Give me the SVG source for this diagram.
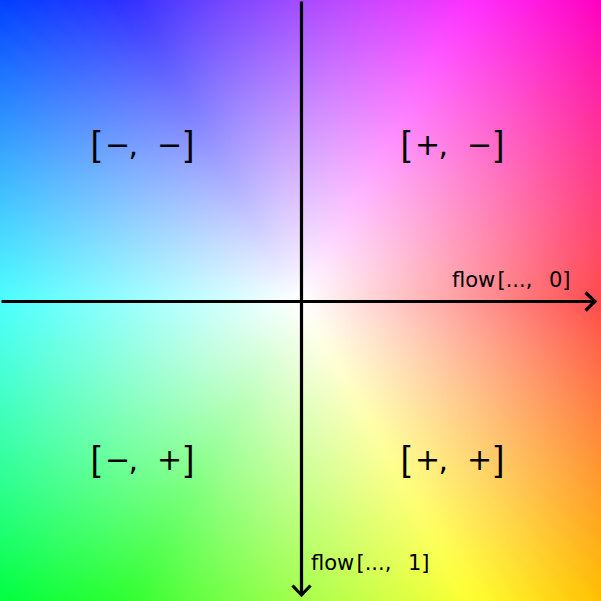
<svg xmlns="http://www.w3.org/2000/svg" xmlns:xlink="http://www.w3.org/1999/xlink" width="601" height="601" viewBox="0 0 601 601">
<style>
text{font-family:"DejaVu Sans","Liberation Sans",sans-serif;fill:#000}
.big{font-size:30px}
.br{font-family:"Liberation Sans",sans-serif;font-size:35px}
.ax{font-size:21px}
.axis{stroke:#000;stroke-width:3.2;fill:none}
</style>
<defs>
<path id="w" d="M0 0L700 0L700 49Z"/>
<filter id="bl" filterUnits="userSpaceOnUse" x="-100" y="-100" width="801" height="801" color-interpolation-filters="sRGB"><feGaussianBlur stdDeviation="5"/></filter>
<radialGradient id="wh" gradientUnits="userSpaceOnUse" cx="300.5" cy="300.5" r="424.97">
<stop offset="0" stop-color="#fff" stop-opacity="1"/>
<stop offset="1" stop-color="#fff" stop-opacity="0"/>
</radialGradient>
<marker id="ah" markerUnits="userSpaceOnUse" viewBox="-14 -12 18 24" refX="0" refY="0" markerWidth="18" markerHeight="24" orient="auto" overflow="visible">
<path d="M-9.5 -9L0 0L-9.5 9" fill="none" stroke="#000" stroke-width="3.2"/>
</marker>
</defs>
<g id="wheel">
<g filter="url(#bl)">
<g transform="translate(300.5 300.5)">
<use href="#w" transform="rotate(0)" fill="#ff0600"/><use href="#w" transform="rotate(3)" fill="#ff1300"/><use href="#w" transform="rotate(6)" fill="#ff2000"/><use href="#w" transform="rotate(9)" fill="#ff2d00"/><use href="#w" transform="rotate(12)" fill="#ff3900"/><use href="#w" transform="rotate(15)" fill="#ff4600"/><use href="#w" transform="rotate(18)" fill="#ff5300"/><use href="#w" transform="rotate(21)" fill="#ff6000"/><use href="#w" transform="rotate(24)" fill="#ff6c00"/><use href="#w" transform="rotate(27)" fill="#ff7900"/><use href="#w" transform="rotate(30)" fill="#ff8600"/><use href="#w" transform="rotate(33)" fill="#ff9300"/><use href="#w" transform="rotate(36)" fill="#ff9f00"/><use href="#w" transform="rotate(39)" fill="#ffac00"/><use href="#w" transform="rotate(42)" fill="#ffb900"/><use href="#w" transform="rotate(45)" fill="#ffc600"/><use href="#w" transform="rotate(48)" fill="#ffd200"/><use href="#w" transform="rotate(51)" fill="#ffdf00"/><use href="#w" transform="rotate(54)" fill="#ffec00"/><use href="#w" transform="rotate(57)" fill="#fff900"/>
<use href="#w" transform="rotate(60)" fill="#f9ff00"/><use href="#w" transform="rotate(63)" fill="#ecff00"/><use href="#w" transform="rotate(66)" fill="#dfff00"/><use href="#w" transform="rotate(69)" fill="#d2ff00"/><use href="#w" transform="rotate(72)" fill="#c6ff00"/><use href="#w" transform="rotate(75)" fill="#b9ff00"/><use href="#w" transform="rotate(78)" fill="#acff00"/><use href="#w" transform="rotate(81)" fill="#9fff00"/><use href="#w" transform="rotate(84)" fill="#93ff00"/><use href="#w" transform="rotate(87)" fill="#86ff00"/><use href="#w" transform="rotate(90)" fill="#79ff00"/><use href="#w" transform="rotate(93)" fill="#6cff00"/><use href="#w" transform="rotate(96)" fill="#60ff00"/><use href="#w" transform="rotate(99)" fill="#53ff00"/><use href="#w" transform="rotate(102)" fill="#46ff00"/><use href="#w" transform="rotate(105)" fill="#39ff00"/><use href="#w" transform="rotate(108)" fill="#2dff00"/><use href="#w" transform="rotate(111)" fill="#20ff00"/><use href="#w" transform="rotate(114)" fill="#13ff00"/><use href="#w" transform="rotate(117)" fill="#06ff00"/>
<use href="#w" transform="rotate(120)" fill="#00ff06"/><use href="#w" transform="rotate(123)" fill="#00ff13"/><use href="#w" transform="rotate(126)" fill="#00ff20"/><use href="#w" transform="rotate(129)" fill="#00ff2d"/><use href="#w" transform="rotate(132)" fill="#00ff39"/><use href="#w" transform="rotate(135)" fill="#00ff46"/><use href="#w" transform="rotate(138)" fill="#00ff53"/><use href="#w" transform="rotate(141)" fill="#00ff60"/><use href="#w" transform="rotate(144)" fill="#00ff6c"/><use href="#w" transform="rotate(147)" fill="#00ff79"/><use href="#w" transform="rotate(150)" fill="#00ff86"/><use href="#w" transform="rotate(153)" fill="#00ff93"/><use href="#w" transform="rotate(156)" fill="#00ff9f"/><use href="#w" transform="rotate(159)" fill="#00ffac"/><use href="#w" transform="rotate(162)" fill="#00ffb9"/><use href="#w" transform="rotate(165)" fill="#00ffc6"/><use href="#w" transform="rotate(168)" fill="#00ffd2"/><use href="#w" transform="rotate(171)" fill="#00ffdf"/><use href="#w" transform="rotate(174)" fill="#00ffec"/><use href="#w" transform="rotate(177)" fill="#00fff9"/>
<use href="#w" transform="rotate(180)" fill="#00f9ff"/><use href="#w" transform="rotate(183)" fill="#00ecff"/><use href="#w" transform="rotate(186)" fill="#00dfff"/><use href="#w" transform="rotate(189)" fill="#00d2ff"/><use href="#w" transform="rotate(192)" fill="#00c6ff"/><use href="#w" transform="rotate(195)" fill="#00b9ff"/><use href="#w" transform="rotate(198)" fill="#00acff"/><use href="#w" transform="rotate(201)" fill="#009fff"/><use href="#w" transform="rotate(204)" fill="#0093ff"/><use href="#w" transform="rotate(207)" fill="#0086ff"/><use href="#w" transform="rotate(210)" fill="#0079ff"/><use href="#w" transform="rotate(213)" fill="#006cff"/><use href="#w" transform="rotate(216)" fill="#0060ff"/><use href="#w" transform="rotate(219)" fill="#0053ff"/><use href="#w" transform="rotate(222)" fill="#0046ff"/><use href="#w" transform="rotate(225)" fill="#0039ff"/><use href="#w" transform="rotate(228)" fill="#002dff"/><use href="#w" transform="rotate(231)" fill="#0020ff"/><use href="#w" transform="rotate(234)" fill="#0013ff"/><use href="#w" transform="rotate(237)" fill="#0006ff"/>
<use href="#w" transform="rotate(240)" fill="#0600ff"/><use href="#w" transform="rotate(243)" fill="#1300ff"/><use href="#w" transform="rotate(246)" fill="#2000ff"/><use href="#w" transform="rotate(249)" fill="#2d00ff"/><use href="#w" transform="rotate(252)" fill="#3900ff"/><use href="#w" transform="rotate(255)" fill="#4600ff"/><use href="#w" transform="rotate(258)" fill="#5300ff"/><use href="#w" transform="rotate(261)" fill="#6000ff"/><use href="#w" transform="rotate(264)" fill="#6c00ff"/><use href="#w" transform="rotate(267)" fill="#7900ff"/><use href="#w" transform="rotate(270)" fill="#8600ff"/><use href="#w" transform="rotate(273)" fill="#9300ff"/><use href="#w" transform="rotate(276)" fill="#9f00ff"/><use href="#w" transform="rotate(279)" fill="#ac00ff"/><use href="#w" transform="rotate(282)" fill="#b900ff"/><use href="#w" transform="rotate(285)" fill="#c600ff"/><use href="#w" transform="rotate(288)" fill="#d200ff"/><use href="#w" transform="rotate(291)" fill="#df00ff"/><use href="#w" transform="rotate(294)" fill="#ec00ff"/><use href="#w" transform="rotate(297)" fill="#f900ff"/>
<use href="#w" transform="rotate(300)" fill="#ff00f9"/><use href="#w" transform="rotate(303)" fill="#ff00ec"/><use href="#w" transform="rotate(306)" fill="#ff00df"/><use href="#w" transform="rotate(309)" fill="#ff00d2"/><use href="#w" transform="rotate(312)" fill="#ff00c6"/><use href="#w" transform="rotate(315)" fill="#ff00b9"/><use href="#w" transform="rotate(318)" fill="#ff00ac"/><use href="#w" transform="rotate(321)" fill="#ff009f"/><use href="#w" transform="rotate(324)" fill="#ff0093"/><use href="#w" transform="rotate(327)" fill="#ff0086"/><use href="#w" transform="rotate(330)" fill="#ff0079"/><use href="#w" transform="rotate(333)" fill="#ff006c"/><use href="#w" transform="rotate(336)" fill="#ff0060"/><use href="#w" transform="rotate(339)" fill="#ff0053"/><use href="#w" transform="rotate(342)" fill="#ff0046"/><use href="#w" transform="rotate(345)" fill="#ff0039"/><use href="#w" transform="rotate(348)" fill="#ff002d"/><use href="#w" transform="rotate(351)" fill="#ff0020"/><use href="#w" transform="rotate(354)" fill="#ff0013"/><use href="#w" transform="rotate(357)" fill="#ff0006"/>
</g>
</g>
<rect x="0" y="0" width="601" height="601" fill="url(#wh)"/>
</g>
<g id="axes">
<line id="axis-x" class="axis" x1="1.5" y1="301.5" x2="595" y2="301.5" marker-end="url(#ah)"/>
<line id="axis-y" class="axis" x1="301.5" y1="1.5" x2="301.5" y2="595" marker-end="url(#ah)"/>
</g>
<g id="axis-labels">
<text id="label-x" class="ax"><tspan x="452" y="287">flow</tspan><tspan x="497.5" y="287">[..., </tspan><tspan x="549" y="287">0]</tspan></text>
<text id="label-y" class="ax"><tspan x="311" y="570">flow</tspan><tspan x="356.5" y="570">[..., </tspan><tspan x="408" y="570">1]</tspan></text>
</g>
<g id="quadrant-labels">
<g id="q-mm"><text class="big"><tspan class="br" x="90.7" y="155.5">[</tspan><tspan x="105" y="155">−</tspan><tspan x="128.5" y="155">, </tspan><tspan x="157" y="155">−</tspan><tspan class="br" x="184.5" y="155.5">]</tspan></text></g>
<g id="q-pm"><text class="big"><tspan class="br" x="400.7" y="155.5">[</tspan><tspan x="415" y="155">+</tspan><tspan x="438.5" y="155">, </tspan><tspan x="467" y="155">−</tspan><tspan class="br" x="494.5" y="155.5">]</tspan></text></g>
<g id="q-mp"><text class="big"><tspan class="br" x="90.7" y="470.5">[</tspan><tspan x="105" y="470">−</tspan><tspan x="128.5" y="470">, </tspan><tspan x="157" y="470">+</tspan><tspan class="br" x="184.5" y="470.5">]</tspan></text></g>
<g id="q-pp"><text class="big"><tspan class="br" x="400.7" y="470.5">[</tspan><tspan x="415" y="470">+</tspan><tspan x="438.5" y="470">, </tspan><tspan x="467" y="470">+</tspan><tspan class="br" x="494.5" y="470.5">]</tspan></text></g>
</g>
</svg>
